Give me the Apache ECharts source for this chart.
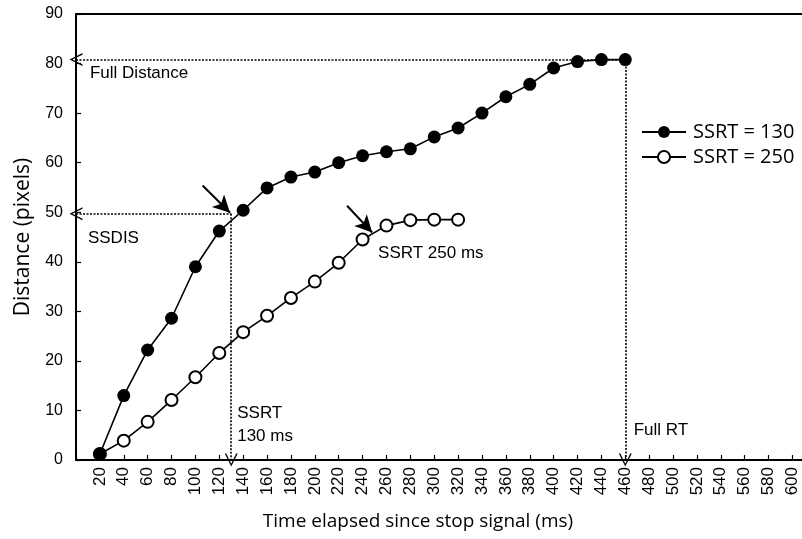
<!DOCTYPE html>
<html>
<head>
<meta charset="utf-8">
<script src="https://cdn.jsdelivr.net/npm/echarts@6/dist/echarts.min.js"></script>
<style>
html, body { margin: 0; padding: 0; background: #fff; }
#chart { width: 802px; height: 539px; }
</style>
</head>
<body>
<div id="chart"></div>
<script>
// 数据：停止信号后的时间 (ms) 和距离 (pixels)
var times130 = [20, 40, 60, 80, 100, 120, 140, 160, 180, 200, 220, 240, 260, 280, 300, 320, 340, 360, 380, 400, 420, 440, 460];
var dist130 = [1.2, 13.0, 22.2, 28.6, 39.0, 46.2, 50.4, 54.9, 57.1, 58.1, 60.0, 61.4, 62.2, 62.8, 65.2, 67.0, 70.0, 73.3, 75.8, 79.1, 80.4, 80.8, 80.8];
var times250 = [20, 40, 60, 80, 100, 120, 140, 160, 180, 200, 220, 240, 260, 280, 300, 320];
var dist250 = [1.2, 3.9, 7.7, 12.1, 16.7, 21.6, 25.8, 29.1, 32.7, 36.0, 39.8, 44.5, 47.3, 48.4, 48.5, 48.5];

// 标注
var fullDist = 80.8, fullRT = 460, ssdis = 49.7, ssrt = 130;
var pointerArrows = [[[106, 55.4], [129, 49.9]], [[227, 51.3], [248, 45.9]]];
var noteTexts = [
    ['Full Distance', 11.7, 78.0],
    ['SSDIS', 10, 44.7],
    ['SSRT', 135, 9.5],
    ['130 ms', 135, 4.8],
    ['SSRT 250 ms', 253, 41.7],
    ['Full RT', 467, 6.0]
];

var chevron = 'path://M50,0 L100,100 L88,100 L50,22 L12,100 L0,100 Z';

function pairs(xs, ys) {
    return xs.map(function (x, i) { return [x, ys[i]]; });
}

var chart = echarts.init(document.getElementById('chart'));

var dotted = { color: '#000', width: 1.6, type: [2, 1.5] };

var option = {
    animation: false,
    backgroundColor: '#fff',
    textStyle: { fontFamily: 'Liberation Sans', color: '#000' },
    grid: { left: 76, top: 14, width: 726, height: 446 },
    legend: {
        orient: 'vertical',
        left: 636,
        top: 117,
        itemWidth: 44,
        itemHeight: 15,
        itemGap: 5,
        textStyle: { fontFamily: 'Open Sans', fontSize: 20, color: '#000', padding: [0, 0, 0, 2] },
        data: ['SSRT = 130', 'SSRT = 250']
    },
    xAxis: [{
        type: 'value',
        min: 0,
        max: 608,
        interval: 20,
        name: 'Time elapsed since stop signal (ms)',
        nameLocation: 'middle',
        nameGap: 52,
        nameTextStyle: { fontFamily: 'Open Sans', fontSize: 19, color: '#000', padding: [0, 42, 0, 0] },
        splitLine: { show: false },
        axisLine: { lineStyle: { color: '#000', width: 2 } },
        axisTick: { inside: true, length: 5, lineStyle: { color: '#000', width: 1.2 } },
        axisLabel: {
            rotate: 90,
            margin: 7,
            fontSize: 17,
            color: '#000',
            formatter: function (v) { return (v === 0 || v > 600) ? '' : String(v); }
        }
    }, {
        type: 'value',
        position: 'top',
        min: 0,
        max: 608,
        axisLine: { show: true, lineStyle: { color: '#000', width: 2 } },
        axisTick: { show: false },
        axisLabel: { show: false },
        splitLine: { show: false }
    }],
    yAxis: {
        type: 'value',
        min: 0,
        max: 90,
        interval: 10,
        name: 'Distance (pixels)',
        nameLocation: 'middle',
        nameGap: 42,
        nameTextStyle: { fontFamily: 'Open Sans', fontSize: 21, color: '#000' },
        splitLine: { show: false },
        axisLine: { show: true, lineStyle: { color: '#000', width: 2 } },
        axisTick: { show: true, inside: true, length: 5, lineStyle: { color: '#000', width: 1.2 } },
        axisLabel: { margin: 13, fontSize: 16, color: '#000' }
    },
    series: [{
        name: 'SSRT = 250',
        type: 'line',
        data: pairs(times250, dist250),
        symbol: 'emptyCircle',
        symbolSize: 12,
        lineStyle: { color: '#000', width: 1.6 },
        itemStyle: { color: '#000', borderColor: '#000', borderWidth: 1.5 },
        markLine: {
            silent: true,
            symbol: ['none', 'arrow'],
            symbolSize: [13, 17],
            label: { show: false },
            lineStyle: { color: '#000', width: 2, type: 'solid' },
            data: pointerArrows.map(function (a) {
                return [{ coord: a[0] }, { coord: a[1] }];
            })
        }
    }, {
        name: 'SSRT = 130',
        type: 'line',
        data: pairs(times130, dist130),
        symbol: 'circle',
        symbolSize: 13,
        lineStyle: { color: '#000', width: 1.6 },
        itemStyle: { color: '#000' },
        markLine: {
            silent: true,
            symbolSize: 13,
            label: { show: false },
            lineStyle: dotted,
            data: [
                [{ coord: [0, fullDist], symbol: chevron }, { coord: [fullRT, fullDist], symbol: 'none' }],
                [{ coord: [fullRT, fullDist], symbol: 'none' }, { coord: [fullRT, 0], symbol: chevron }],
                [{ coord: [0, ssdis], symbol: chevron }, { coord: [ssrt, ssdis], symbol: 'none' }],
                [{ coord: [ssrt, ssdis], symbol: 'none' }, { coord: [ssrt, 0], symbol: chevron }]
            ]
        }
    }]
};

chart.setOption(option);

// 文字标注
chart.setOption({
    graphic: noteTexts.map(function (t) {
        var p = chart.convertToPixel({ gridIndex: 0 }, [t[1], t[2]]);
        return {
            type: 'text',
            x: p[0],
            y: p[1],
            silent: true,
            style: {
                text: t[0],
                fill: '#000',
                font: '17px "Liberation Sans"',
                textAlign: 'left',
                textVerticalAlign: 'middle'
            }
        };
    })
});
</script>
</body>
</html>
